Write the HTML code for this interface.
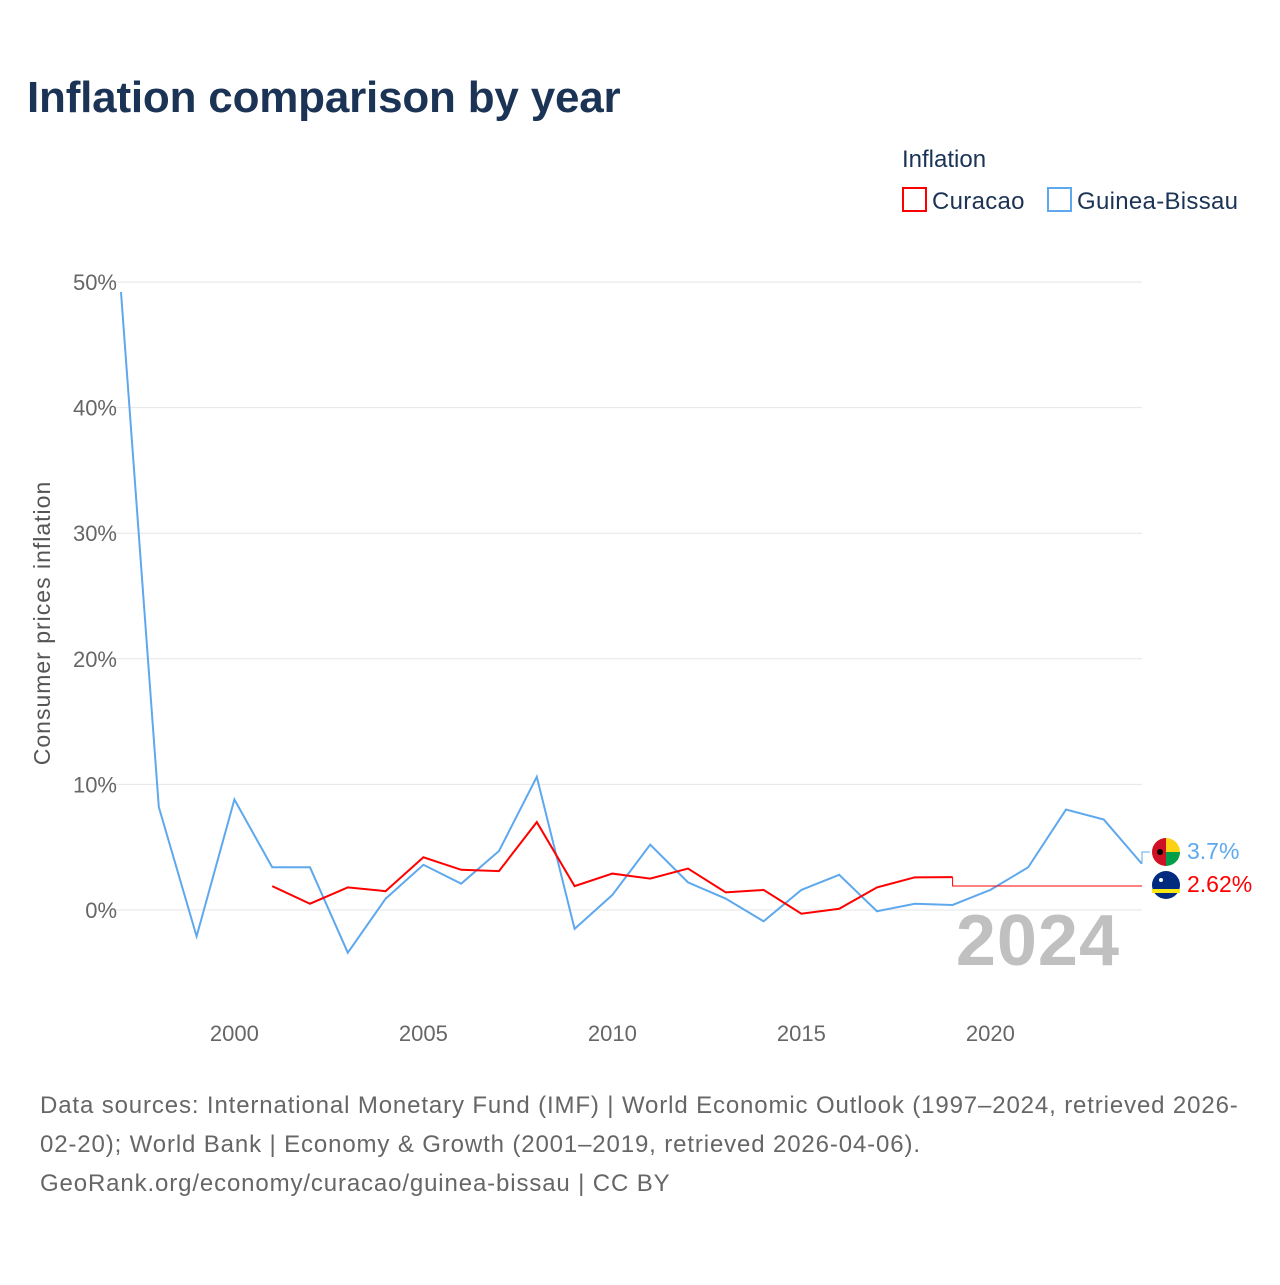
<!DOCTYPE html>
<html><head><meta charset="utf-8"><style>
body{margin:0;background:#fff;font-family:"Liberation Sans",sans-serif;}
</style></head><body>
<svg width="1280" height="1280" viewBox="0 0 1280 1280" xmlns="http://www.w3.org/2000/svg">
<text x="27" y="112" font-size="44" font-weight="bold" fill="#1b3355" letter-spacing="-0.2">Inflation comparison by year</text>
<text x="902" y="167" font-size="24" fill="#1b3355">Inflation</text>
<g><rect x="903" y="188" width="23" height="23" fill="none" stroke="#ff0000" stroke-width="2"/><text x="932" y="209" font-size="24" fill="#1b3355" letter-spacing="0.3">Curacao</text></g>
<g><rect x="1048" y="188" width="23" height="23" fill="none" stroke="#5ea8ee" stroke-width="2"/><text x="1077" y="209" font-size="24" fill="#1b3355" letter-spacing="0.3">Guinea-Bissau</text></g>
<g id="grid"></g><g id="yt"></g><g id="xt"></g>
<text transform="translate(50,623) rotate(-90)" text-anchor="middle" font-size="23" fill="#555" letter-spacing="1">Consumer prices inflation</text>
<text x="1120" y="965" text-anchor="end" font-size="72" font-weight="bold" fill="#c0c0c0" letter-spacing="1">2024</text>
<g id="series"></g>
<g><circle cx="1166" cy="852" r="14" fill="#fcd116"/><path d="M1166 852 L1180 852 A14 14 0 0 1 1166 866 Z" fill="#009e49"/><path d="M1166 838 A14 14 0 0 0 1166 866 Z" fill="#ce1126"/><circle cx="1160" cy="852" r="3" fill="#000"/></g>
<g><circle cx="1166" cy="885" r="14" fill="#002b7f"/><rect x="1152" y="889" width="28" height="4" fill="#f9e814"/><circle cx="1161" cy="880" r="2" fill="#fff"/></g>
<text x="1187" y="859" font-size="23" fill="#5ea8ee">3.7%</text>
<text x="1187" y="892" font-size="23" fill="#ff0000">2.62%</text>
<text font-size="24" fill="#666" letter-spacing="0.87"><tspan x="40" y="1113">Data sources: International Monetary Fund (IMF) | World Economic Outlook (1997–2024, retrieved 2026-</tspan><tspan x="40" y="1152">02-20); World Bank | Economy &amp; Growth (2001–2019, retrieved 2026-04-06).</tspan><tspan x="40" y="1191">GeoRank.org/economy/curacao/guinea-bissau | CC BY</tspan></text>
</svg>
<script>
const yTicks=[0,10,20,30,40,50];
const xTicks=[2000,2005,2010,2015,2020];
const gbYears=[1997,1998,1999,2000,2001,2002,2003,2004,2005,2006,2007,2008,2009,2010,2011,2012,2013,2014,2015,2016,2017,2018,2019,2020,2021,2022,2023,2024];
const gbValues=[49.2,8.2,-2.1,8.8,3.4,3.4,-3.4,0.9,3.6,2.1,4.7,10.6,-1.5,1.2,5.2,2.2,0.9,-0.9,1.6,2.8,-0.1,0.5,0.4,1.6,3.4,8.0,7.2,3.7];
const cwYears=[2001,2002,2003,2004,2005,2006,2007,2008,2009,2010,2011,2012,2013,2014,2015,2016,2017,2018,2019];
const cwValues=[1.9,0.5,1.8,1.5,4.2,3.2,3.1,7.0,1.9,2.9,2.5,3.3,1.4,1.6,-0.3,0.1,1.8,2.6,2.62];
const X=y=>121+(y-1997)*37.8;
const Y=v=>910-v*12.56;
const NS="http://www.w3.org/2000/svg";
function mk(t,a,p){const e=document.createElementNS(NS,t);for(const k in a)e.setAttribute(k,a[k]);document.getElementById(p).appendChild(e);return e;}
yTicks.forEach(v=>{
 const l=mk('line',{x1:115,x2:1142,y1:Y(v),y2:Y(v),stroke:'#e6e6e6','stroke-width':1},'grid');
 
 
 const t=mk('text',{x:117,y:Y(v)+8,'text-anchor':'end','font-size':22,fill:'#666'},'yt');
 t.textContent=v+'%';
 
 
});
xTicks.forEach(y=>{
 const t=mk('text',{x:X(y),y:1041,'text-anchor':'middle','font-size':22,fill:'#666'},'xt');
 t.textContent=y;
 
 
});
const gp=mk('polyline',{points:gbYears.map((y,i)=>X(y)+','+Y(gbValues[i])).join(' '),fill:'none',stroke:'#5ea8ee','stroke-width':2},'series');


const cp=mk('polyline',{points:cwYears.map((y,i)=>X(y)+','+Y(cwValues[i])).join(' '),fill:'none',stroke:'#ff0000','stroke-width':2},'series');


const lx=X(cwYears[cwYears.length-1]),ly=Y(cwValues[cwValues.length-1]);
const c1=mk('polyline',{points:`${lx},${ly} ${lx},886 1142,886`,fill:'none',stroke:'#ff0000','stroke-width':1},'series');


const gx=X(2024),gy=Y(gbValues[gbValues.length-1]);
const c2=mk('polyline',{points:`${gx},${gy} 1142,${gy} 1142,852 1150,852`,fill:'none',stroke:'#5ea8ee','stroke-width':1},'series');


</script>
</body></html>
